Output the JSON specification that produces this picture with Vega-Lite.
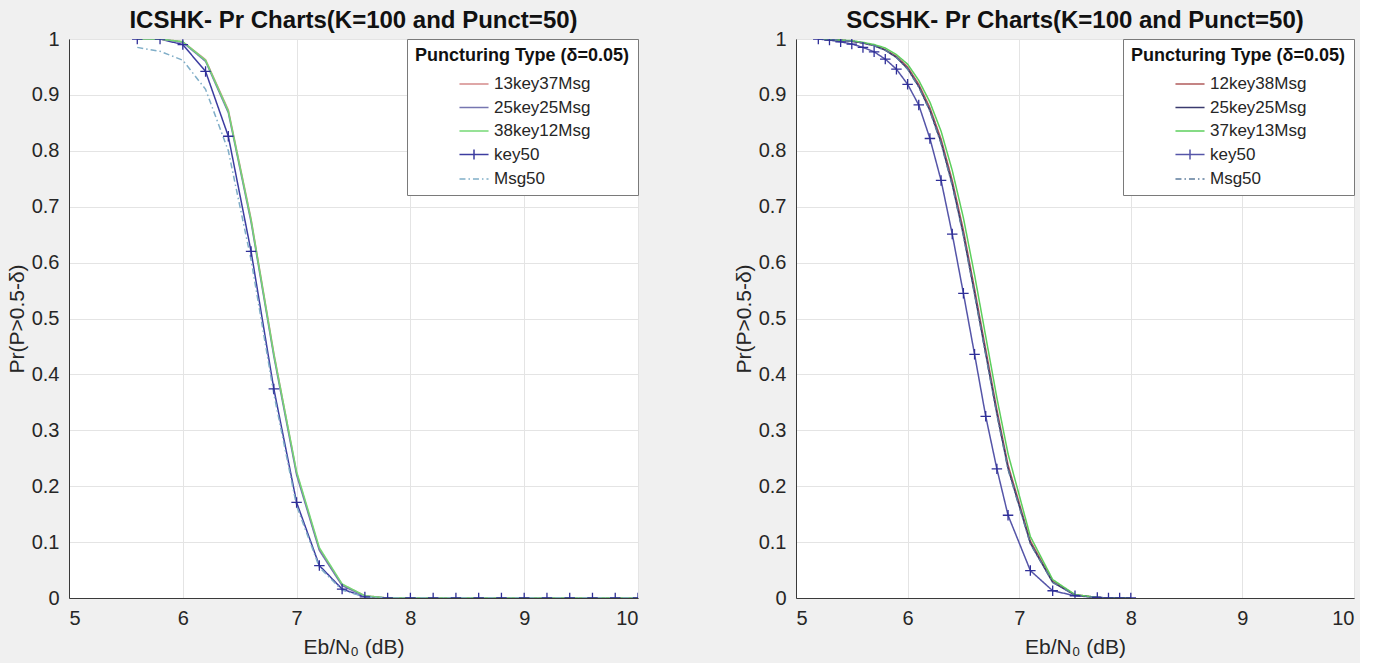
{
  "$schema": "https://vega.github.io/schema/vega-lite/v6.json",
  "background": "#f0f0f0",
  "padding": {"left": 5, "top": 8, "right": 5, "bottom": 5},
  "bounds": "flush",
  "spacing": 158,
  "config": {
    "font": "Liberation Sans",
    "view": {"fill": "white", "stroke": "#3a3a3a", "strokeWidth": 1},
    "axis": {
      "labelFont": "Liberation Sans", "labelFontSize": 20, "labelColor": "#262626",
      "titleFont": "Liberation Sans", "titleFontSize": 21, "titleFontWeight": "normal", "titleColor": "#262626",
      "gridColor": "#e4e4e4", "domainColor": "#3a3a3a", "ticks": false, "labelPadding": 10
    },
    "axisY": {"titlePadding": 4},
    "axisX": {"titlePadding": 8, "labelPadding": 10},
    "title": {"font": "Liberation Sans", "fontSize": 24, "fontWeight": "bold", "color": "#111111", "offset": -4},
    "legend": {
      "titleFont": "Liberation Sans", "titleFontSize": 18, "titleFontWeight": "bold", "titleColor": "#111111", "titleLimit": 400,
      "labelFont": "Liberation Sans", "labelFontSize": 17, "labelColor": "#262626", "labelLimit": 300,
      "fillColor": "white", "strokeColor": "#7a7a7a", "padding": 8, "titlePadding": 7,
      "orient": "top-right", "offset": 0, "symbolSize": 500, "symbolStrokeWidth": 1.5,
      "symbolOffset": 8, "labelOffset": 8, "rowPadding": 3.5, "titleAnchor": "middle"
    }
  },
  "datasets": {
    "d": [
      {"p":"L","s":"key50","x":5.6,"y":1},{"p":"L","s":"key50","x":5.8,"y":1},{"p":"L","s":"key50","x":6.0,"y":0.99},{"p":"L","s":"key50","x":6.2,"y":0.942},{"p":"L","s":"key50","x":6.4,"y":0.826},{"p":"L","s":"key50","x":6.6,"y":0.62},{"p":"L","s":"key50","x":6.8,"y":0.374},{"p":"L","s":"key50","x":7.0,"y":0.171},{"p":"L","s":"key50","x":7.2,"y":0.058},{"p":"L","s":"key50","x":7.4,"y":0.016},{"p":"L","s":"key50","x":7.6,"y":0.002},{"p":"L","s":"key50","x":7.8,"y":0},{"p":"L","s":"key50","x":8.0,"y":0},{"p":"L","s":"key50","x":8.2,"y":0},{"p":"L","s":"key50","x":8.4,"y":0},{"p":"L","s":"key50","x":8.6,"y":0},{"p":"L","s":"key50","x":8.8,"y":0},{"p":"L","s":"key50","x":9.0,"y":0},{"p":"L","s":"key50","x":9.2,"y":0},{"p":"L","s":"key50","x":9.4,"y":0},{"p":"L","s":"key50","x":9.6,"y":0},{"p":"L","s":"key50","x":9.8,"y":0},{"p":"L","s":"key50","x":10.0,"y":0},
      {"p":"L","s":"13key37Msg","x":5.6,"y":1},{"p":"L","s":"13key37Msg","x":5.8,"y":1},{"p":"L","s":"13key37Msg","x":6.0,"y":0.995},{"p":"L","s":"13key37Msg","x":6.2,"y":0.963},{"p":"L","s":"13key37Msg","x":6.4,"y":0.873},{"p":"L","s":"13key37Msg","x":6.6,"y":0.678},{"p":"L","s":"13key37Msg","x":6.8,"y":0.438},{"p":"L","s":"13key37Msg","x":7.0,"y":0.224},{"p":"L","s":"13key37Msg","x":7.2,"y":0.087},{"p":"L","s":"13key37Msg","x":7.4,"y":0.024},{"p":"L","s":"13key37Msg","x":7.6,"y":0.004},{"p":"L","s":"13key37Msg","x":7.8,"y":0},{"p":"L","s":"13key37Msg","x":8.0,"y":0},{"p":"L","s":"13key37Msg","x":8.2,"y":0},{"p":"L","s":"13key37Msg","x":8.4,"y":0},{"p":"L","s":"13key37Msg","x":8.6,"y":0},{"p":"L","s":"13key37Msg","x":8.8,"y":0},{"p":"L","s":"13key37Msg","x":9.0,"y":0},{"p":"L","s":"13key37Msg","x":9.2,"y":0},{"p":"L","s":"13key37Msg","x":9.4,"y":0},{"p":"L","s":"13key37Msg","x":9.6,"y":0},{"p":"L","s":"13key37Msg","x":9.8,"y":0},{"p":"L","s":"13key37Msg","x":10.0,"y":0},
      {"p":"L","s":"25key25Msg","x":5.6,"y":1},{"p":"L","s":"25key25Msg","x":5.8,"y":1},{"p":"L","s":"25key25Msg","x":6.0,"y":0.994},{"p":"L","s":"25key25Msg","x":6.2,"y":0.96},{"p":"L","s":"25key25Msg","x":6.4,"y":0.868},{"p":"L","s":"25key25Msg","x":6.6,"y":0.672},{"p":"L","s":"25key25Msg","x":6.8,"y":0.432},{"p":"L","s":"25key25Msg","x":7.0,"y":0.22},{"p":"L","s":"25key25Msg","x":7.2,"y":0.085},{"p":"L","s":"25key25Msg","x":7.4,"y":0.022},{"p":"L","s":"25key25Msg","x":7.6,"y":0.003},{"p":"L","s":"25key25Msg","x":7.8,"y":0},{"p":"L","s":"25key25Msg","x":8.0,"y":0},{"p":"L","s":"25key25Msg","x":8.2,"y":0},{"p":"L","s":"25key25Msg","x":8.4,"y":0},{"p":"L","s":"25key25Msg","x":8.6,"y":0},{"p":"L","s":"25key25Msg","x":8.8,"y":0},{"p":"L","s":"25key25Msg","x":9.0,"y":0},{"p":"L","s":"25key25Msg","x":9.2,"y":0},{"p":"L","s":"25key25Msg","x":9.4,"y":0},{"p":"L","s":"25key25Msg","x":9.6,"y":0},{"p":"L","s":"25key25Msg","x":9.8,"y":0},{"p":"L","s":"25key25Msg","x":10.0,"y":0},
      {"p":"L","s":"38key12Msg","x":5.6,"y":1},{"p":"L","s":"38key12Msg","x":5.8,"y":1},{"p":"L","s":"38key12Msg","x":6.0,"y":0.995},{"p":"L","s":"38key12Msg","x":6.2,"y":0.962},{"p":"L","s":"38key12Msg","x":6.4,"y":0.871},{"p":"L","s":"38key12Msg","x":6.6,"y":0.676},{"p":"L","s":"38key12Msg","x":6.8,"y":0.436},{"p":"L","s":"38key12Msg","x":7.0,"y":0.226},{"p":"L","s":"38key12Msg","x":7.2,"y":0.09},{"p":"L","s":"38key12Msg","x":7.4,"y":0.025},{"p":"L","s":"38key12Msg","x":7.6,"y":0.004},{"p":"L","s":"38key12Msg","x":7.8,"y":0},{"p":"L","s":"38key12Msg","x":8.0,"y":0},{"p":"L","s":"38key12Msg","x":8.2,"y":0},{"p":"L","s":"38key12Msg","x":8.4,"y":0},{"p":"L","s":"38key12Msg","x":8.6,"y":0},{"p":"L","s":"38key12Msg","x":8.8,"y":0},{"p":"L","s":"38key12Msg","x":9.0,"y":0},{"p":"L","s":"38key12Msg","x":9.2,"y":0},{"p":"L","s":"38key12Msg","x":9.4,"y":0},{"p":"L","s":"38key12Msg","x":9.6,"y":0},{"p":"L","s":"38key12Msg","x":9.8,"y":0},{"p":"L","s":"38key12Msg","x":10.0,"y":0},
      {"p":"L","s":"Msg50","x":5.6,"y":0.985},{"p":"L","s":"Msg50","x":5.8,"y":0.978},{"p":"L","s":"Msg50","x":6.0,"y":0.962},{"p":"L","s":"Msg50","x":6.2,"y":0.91},{"p":"L","s":"Msg50","x":6.4,"y":0.8},{"p":"L","s":"Msg50","x":6.6,"y":0.605},{"p":"L","s":"Msg50","x":6.8,"y":0.365},{"p":"L","s":"Msg50","x":7.0,"y":0.165},{"p":"L","s":"Msg50","x":7.2,"y":0.055},{"p":"L","s":"Msg50","x":7.4,"y":0.014},{"p":"L","s":"Msg50","x":7.6,"y":0.002},{"p":"L","s":"Msg50","x":7.8,"y":0},{"p":"L","s":"Msg50","x":8.0,"y":0},{"p":"L","s":"Msg50","x":8.2,"y":0},{"p":"L","s":"Msg50","x":8.4,"y":0},{"p":"L","s":"Msg50","x":8.6,"y":0},{"p":"L","s":"Msg50","x":8.8,"y":0},{"p":"L","s":"Msg50","x":9.0,"y":0},{"p":"L","s":"Msg50","x":9.2,"y":0},{"p":"L","s":"Msg50","x":9.4,"y":0},{"p":"L","s":"Msg50","x":9.6,"y":0},{"p":"L","s":"Msg50","x":9.8,"y":0},{"p":"L","s":"Msg50","x":10.0,"y":0},

      {"p":"R","s":"key50","x":5.2,"y":1},{"p":"R","s":"key50","x":5.3,"y":0.998},{"p":"R","s":"key50","x":5.4,"y":0.995},{"p":"R","s":"key50","x":5.5,"y":0.991},{"p":"R","s":"key50","x":5.6,"y":0.985},{"p":"R","s":"key50","x":5.7,"y":0.977},{"p":"R","s":"key50","x":5.8,"y":0.964},{"p":"R","s":"key50","x":5.9,"y":0.946},{"p":"R","s":"key50","x":6.0,"y":0.919},{"p":"R","s":"key50","x":6.1,"y":0.882},{"p":"R","s":"key50","x":6.2,"y":0.822},{"p":"R","s":"key50","x":6.3,"y":0.747},{"p":"R","s":"key50","x":6.4,"y":0.651},{"p":"R","s":"key50","x":6.5,"y":0.545},{"p":"R","s":"key50","x":6.6,"y":0.436},{"p":"R","s":"key50","x":6.7,"y":0.325},{"p":"R","s":"key50","x":6.8,"y":0.231},{"p":"R","s":"key50","x":6.9,"y":0.148},{"p":"R","s":"key50","x":7.1,"y":0.049},{"p":"R","s":"key50","x":7.3,"y":0.013},{"p":"R","s":"key50","x":7.5,"y":0.004},{"p":"R","s":"key50","x":7.7,"y":0.001},{"p":"R","s":"key50","x":7.8,"y":0},{"p":"R","s":"key50","x":7.9,"y":0},{"p":"R","s":"key50","x":8.0,"y":0},
      {"p":"R","s":"12key38Msg","x":5.2,"y":1},{"p":"R","s":"12key38Msg","x":5.3,"y":0.999},{"p":"R","s":"12key38Msg","x":5.4,"y":0.998},{"p":"R","s":"12key38Msg","x":5.5,"y":0.996},{"p":"R","s":"12key38Msg","x":5.6,"y":0.993},{"p":"R","s":"12key38Msg","x":5.7,"y":0.989},{"p":"R","s":"12key38Msg","x":5.8,"y":0.981},{"p":"R","s":"12key38Msg","x":5.9,"y":0.969},{"p":"R","s":"12key38Msg","x":6.0,"y":0.95},{"p":"R","s":"12key38Msg","x":6.1,"y":0.919},{"p":"R","s":"12key38Msg","x":6.2,"y":0.877},{"p":"R","s":"12key38Msg","x":6.3,"y":0.821},{"p":"R","s":"12key38Msg","x":6.4,"y":0.747},{"p":"R","s":"12key38Msg","x":6.5,"y":0.658},{"p":"R","s":"12key38Msg","x":6.6,"y":0.553},{"p":"R","s":"12key38Msg","x":6.7,"y":0.445},{"p":"R","s":"12key38Msg","x":6.8,"y":0.337},{"p":"R","s":"12key38Msg","x":6.9,"y":0.238},{"p":"R","s":"12key38Msg","x":7.1,"y":0.102},{"p":"R","s":"12key38Msg","x":7.3,"y":0.03},{"p":"R","s":"12key38Msg","x":7.5,"y":0.006},{"p":"R","s":"12key38Msg","x":7.7,"y":0.001},{"p":"R","s":"12key38Msg","x":7.8,"y":0},{"p":"R","s":"12key38Msg","x":7.9,"y":0},{"p":"R","s":"12key38Msg","x":8.0,"y":0},
      {"p":"R","s":"25key25Msg","x":5.2,"y":1},{"p":"R","s":"25key25Msg","x":5.3,"y":0.999},{"p":"R","s":"25key25Msg","x":5.4,"y":0.998},{"p":"R","s":"25key25Msg","x":5.5,"y":0.996},{"p":"R","s":"25key25Msg","x":5.6,"y":0.993},{"p":"R","s":"25key25Msg","x":5.7,"y":0.988},{"p":"R","s":"25key25Msg","x":5.8,"y":0.98},{"p":"R","s":"25key25Msg","x":5.9,"y":0.967},{"p":"R","s":"25key25Msg","x":6.0,"y":0.947},{"p":"R","s":"25key25Msg","x":6.1,"y":0.915},{"p":"R","s":"25key25Msg","x":6.2,"y":0.872},{"p":"R","s":"25key25Msg","x":6.3,"y":0.815},{"p":"R","s":"25key25Msg","x":6.4,"y":0.74},{"p":"R","s":"25key25Msg","x":6.5,"y":0.65},{"p":"R","s":"25key25Msg","x":6.6,"y":0.545},{"p":"R","s":"25key25Msg","x":6.7,"y":0.437},{"p":"R","s":"25key25Msg","x":6.8,"y":0.33},{"p":"R","s":"25key25Msg","x":6.9,"y":0.232},{"p":"R","s":"25key25Msg","x":7.1,"y":0.098},{"p":"R","s":"25key25Msg","x":7.3,"y":0.028},{"p":"R","s":"25key25Msg","x":7.5,"y":0.005},{"p":"R","s":"25key25Msg","x":7.7,"y":0.001},{"p":"R","s":"25key25Msg","x":7.8,"y":0},{"p":"R","s":"25key25Msg","x":7.9,"y":0},{"p":"R","s":"25key25Msg","x":8.0,"y":0},
      {"p":"R","s":"37key13Msg","x":5.2,"y":1},{"p":"R","s":"37key13Msg","x":5.3,"y":0.999},{"p":"R","s":"37key13Msg","x":5.4,"y":0.998},{"p":"R","s":"37key13Msg","x":5.5,"y":0.997},{"p":"R","s":"37key13Msg","x":5.6,"y":0.994},{"p":"R","s":"37key13Msg","x":5.7,"y":0.99},{"p":"R","s":"37key13Msg","x":5.8,"y":0.984},{"p":"R","s":"37key13Msg","x":5.9,"y":0.972},{"p":"R","s":"37key13Msg","x":6.0,"y":0.955},{"p":"R","s":"37key13Msg","x":6.1,"y":0.926},{"p":"R","s":"37key13Msg","x":6.2,"y":0.887},{"p":"R","s":"37key13Msg","x":6.3,"y":0.835},{"p":"R","s":"37key13Msg","x":6.4,"y":0.765},{"p":"R","s":"37key13Msg","x":6.5,"y":0.68},{"p":"R","s":"37key13Msg","x":6.6,"y":0.578},{"p":"R","s":"37key13Msg","x":6.7,"y":0.468},{"p":"R","s":"37key13Msg","x":6.8,"y":0.358},{"p":"R","s":"37key13Msg","x":6.9,"y":0.258},{"p":"R","s":"37key13Msg","x":7.1,"y":0.11},{"p":"R","s":"37key13Msg","x":7.3,"y":0.033},{"p":"R","s":"37key13Msg","x":7.5,"y":0.006},{"p":"R","s":"37key13Msg","x":7.7,"y":0.001},{"p":"R","s":"37key13Msg","x":7.8,"y":0},{"p":"R","s":"37key13Msg","x":7.9,"y":0},{"p":"R","s":"37key13Msg","x":8.0,"y":0},
      {"p":"R","s":"Msg50","x":5.2,"y":1},{"p":"R","s":"Msg50","x":5.3,"y":0.999},{"p":"R","s":"Msg50","x":5.4,"y":0.998},{"p":"R","s":"Msg50","x":5.5,"y":0.996},{"p":"R","s":"Msg50","x":5.6,"y":0.993},{"p":"R","s":"Msg50","x":5.7,"y":0.988},{"p":"R","s":"Msg50","x":5.8,"y":0.98},{"p":"R","s":"Msg50","x":5.9,"y":0.967},{"p":"R","s":"Msg50","x":6.0,"y":0.946},{"p":"R","s":"Msg50","x":6.1,"y":0.914},{"p":"R","s":"Msg50","x":6.2,"y":0.871},{"p":"R","s":"Msg50","x":6.3,"y":0.813},{"p":"R","s":"Msg50","x":6.4,"y":0.738},{"p":"R","s":"Msg50","x":6.5,"y":0.648},{"p":"R","s":"Msg50","x":6.6,"y":0.543},{"p":"R","s":"Msg50","x":6.7,"y":0.435},{"p":"R","s":"Msg50","x":6.8,"y":0.328},{"p":"R","s":"Msg50","x":6.9,"y":0.23},{"p":"R","s":"Msg50","x":7.1,"y":0.097},{"p":"R","s":"Msg50","x":7.3,"y":0.028},{"p":"R","s":"Msg50","x":7.5,"y":0.005},{"p":"R","s":"Msg50","x":7.7,"y":0.001},{"p":"R","s":"Msg50","x":7.8,"y":0},{"p":"R","s":"Msg50","x":7.9,"y":0},{"p":"R","s":"Msg50","x":8.0,"y":0}
    ]
  },
  "resolve": {
    "scale": {"color": "independent", "strokeDash": "independent"},
    "legend": {"color": "independent", "strokeDash": "independent"}
  },
  "hconcat": [
    {
      "width": 569, "height": 559,
      "title": {"text": "ICSHK- Pr Charts(K=100 and Punct=50)"},
      "data": {"name": "d"},
      "transform": [{"filter": "datum.p === 'L'"}],
      "layer": [
        {
          "mark": {"type": "line", "strokeWidth": 1.5, "clip": true},
          "encoding": {
            "x": {"field": "x", "type": "quantitative", "scale": {"domain": [5, 10], "nice": false}, "axis": {"values": [5, 6, 7, 8, 9, 10], "format": "~g", "title": "Eb/N₀ (dB)"}},
            "y": {"field": "y", "type": "quantitative", "scale": {"domain": [0, 1], "nice": false}, "axis": {"values": [0, 0.1, 0.2, 0.3, 0.4, 0.5, 0.6, 0.7, 0.8, 0.9, 1], "format": "~g", "title": "Pr(P>0.5-δ)"}},
            "color": {"field": "s", "type": "nominal", "scale": {"domain": ["13key37Msg", "25key25Msg", "38key12Msg", "key50", "Msg50"], "range": ["#d48a8a", "#7676b0", "#74d874", "#3c3ca0", "#80aec8"]},
              "legend": {"title": "Puncturing Type (δ=0.05)", "encode": {"symbols": {"update": {"shape": {"signal": "datum.value === 'key50' ? 'M-1.3,0H1.3M0,-0.45V0.45' : 'M-1.3,0H1.3'"}}}}}},
            "strokeDash": {"field": "s", "type": "nominal", "scale": {"domain": ["13key37Msg", "25key25Msg", "38key12Msg", "key50", "Msg50"], "range": [[1, 0], [1, 0], [1, 0], [1, 0], [6, 3, 1.5, 3]]},
              "legend": {"title": "Puncturing Type (δ=0.05)", "encode": {"symbols": {"update": {"shape": {"signal": "datum.value === 'key50' ? 'M-1.3,0H1.3M0,-0.45V0.45' : 'M-1.3,0H1.3'"}}}}}}
          }
        },
        {
          "transform": [{"filter": "datum.s === 'key50'"}],
          "mark": {"type": "point", "shape": "M-1,0H1M0,-1V1", "size": 110, "filled": false, "strokeWidth": 1.3, "color": "#2f2f98", "opacity": 1, "clip": true},
          "encoding": {
            "x": {"field": "x", "type": "quantitative"},
            "y": {"field": "y", "type": "quantitative"}
          }
        }
      ]
    },
    {
      "width": 558, "height": 559,
      "title": {"text": "SCSHK- Pr Charts(K=100 and Punct=50)"},
      "data": {"name": "d"},
      "transform": [{"filter": "datum.p === 'R'"}],
      "layer": [
        {
          "mark": {"type": "line", "strokeWidth": 1.5, "clip": true},
          "encoding": {
            "x": {"field": "x", "type": "quantitative", "scale": {"domain": [5, 10], "nice": false}, "axis": {"values": [5, 6, 7, 8, 9, 10], "format": "~g", "title": "Eb/N₀ (dB)"}},
            "y": {"field": "y", "type": "quantitative", "scale": {"domain": [0, 1], "nice": false}, "axis": {"values": [0, 0.1, 0.2, 0.3, 0.4, 0.5, 0.6, 0.7, 0.8, 0.9, 1], "format": "~g", "title": "Pr(P>0.5-δ)"}},
            "color": {"field": "s", "type": "nominal", "scale": {"domain": ["12key38Msg", "25key25Msg", "37key13Msg", "key50", "Msg50"], "range": ["#b05a5a", "#3a3a6e", "#5ccf5c", "#5555a8", "#5e7c9c"]},
              "legend": {"title": "Puncturing Type (δ=0.05)", "encode": {"symbols": {"update": {"shape": {"signal": "datum.value === 'key50' ? 'M-1.3,0H1.3M0,-0.45V0.45' : 'M-1.3,0H1.3'"}}}}}},
            "strokeDash": {"field": "s", "type": "nominal", "scale": {"domain": ["12key38Msg", "25key25Msg", "37key13Msg", "key50", "Msg50"], "range": [[1, 0], [1, 0], [1, 0], [1, 0], [6, 3, 1.5, 3]]},
              "legend": {"title": "Puncturing Type (δ=0.05)", "encode": {"symbols": {"update": {"shape": {"signal": "datum.value === 'key50' ? 'M-1.3,0H1.3M0,-0.45V0.45' : 'M-1.3,0H1.3'"}}}}}}
          }
        },
        {
          "transform": [{"filter": "datum.s === 'key50'"}],
          "mark": {"type": "point", "shape": "M-1,0H1M0,-1V1", "size": 110, "filled": false, "strokeWidth": 1.3, "color": "#2f2f98", "opacity": 1, "clip": true},
          "encoding": {
            "x": {"field": "x", "type": "quantitative"},
            "y": {"field": "y", "type": "quantitative"}
          }
        }
      ]
    }
  ]
}
